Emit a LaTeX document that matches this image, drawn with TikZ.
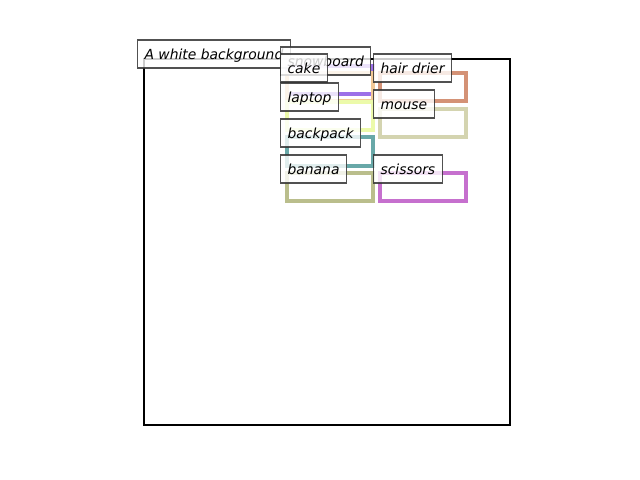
\documentclass[tikz,border=0pt]{standalone}
\usepackage{fontspec}
\newfontfamily\tagfont{DejaVu Sans}

\definecolor{snowC}{RGB}{156,112,232}
\definecolor{cakeC}{RGB}{242,200,150}
\definecolor{laptopC}{RGB}{236,250,170}
\definecolor{backpackC}{RGB}{104,168,168}
\definecolor{bananaC}{RGB}{186,190,140}
\definecolor{drierC}{RGB}{212,146,118}
\definecolor{mouseC}{RGB}{212,212,176}
\definecolor{scissorsC}{RGB}{198,112,206}

\begin{document}
\begin{tikzpicture}[x=0.72pt, y=-0.72pt,
        region/.style={line width=2.2pt, line join=miter},
        tag/.style={draw=black!80, line width=0.8pt, fill=white, fill opacity=0.8, draw opacity=0.85, text opacity=1,
            anchor=base west, inner xsep=5.04pt, inner ysep=5.04pt, text height=8.64pt, text depth=1.44pt,
            font=\tagfont\itshape}
    ]
    \useasboundingbox (0,0) rectangle (640,480);

    % Regions
    \draw[line width=1.6pt, black] (144,59) rectangle (510,425);
    \draw[region, snowC] (287,66) rectangle (373,94);
    \draw[region, cakeC] (287,73) rectangle (373,101);
    \draw[region, laptopC] (287,102) rectangle (373,130);
    \draw[region, backpackC] (287,137) rectangle (373,166);
    \draw[region, bananaC] (287,173) rectangle (373,201);
    \draw[region, drierC] (380,73) rectangle (466,101);
    \draw[region, mouseC] (380,109) rectangle (466,137);
    \draw[region, scissorsC] (380,173) rectangle (466,201);

    % Tags
    \node[tag] (bg) at (137,59) {A white background};
    \node[tag] (snowboard) at (280,66) {snowboard};
    \node[tag] (cake) at (280,73) {cake};
    \node[tag] (laptop) at (280,102) {laptop};
    \node[tag] (backpack) at (280,138) {backpack};
    \node[tag] (banana) at (280,174) {banana};
    \node[tag] (drier) at (373,73) {hair drier};
    \node[tag] (mouse) at (373,109) {mouse};
    \node[tag] (scissors) at (373,174) {scissors};

\end{tikzpicture}
\end{document}
